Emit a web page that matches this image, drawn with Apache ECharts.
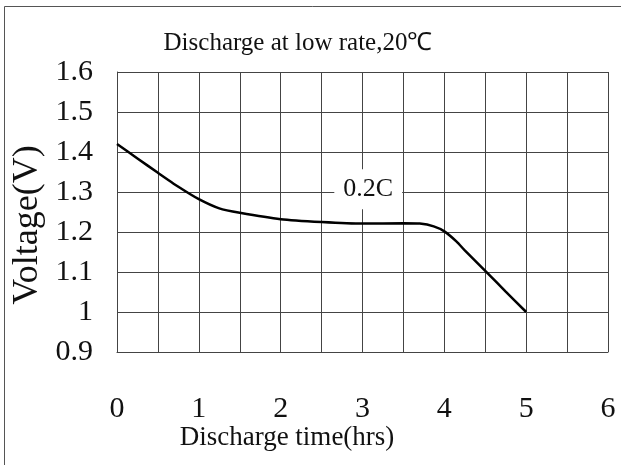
<!DOCTYPE html>
<html>
<head>
<meta charset="utf-8">
<script src="https://cdn.jsdelivr.net/npm/echarts@6/dist/echarts.min.js"></script>
<style>html,body{margin:0;padding:0;background:#fff}#c{width:621px;height:465px}</style>
</head>
<body>
<div id="c"></div>
<script>
const titleText = 'Discharge at low rate,20\u2103';
const xName = 'Discharge time(hrs)';
const yName = 'Voltage(V)';
const timeHrs = [0, 0.25, 0.5, 0.75, 1, 1.25, 1.5, 2, 2.5, 3, 3.5, 3.7, 3.87, 4, 4.15, 4.25, 4.5, 4.75, 5];
const voltage = [1.42, 1.384, 1.348, 1.313, 1.282, 1.259, 1.248, 1.232, 1.225, 1.221, 1.222, 1.221, 1.214, 1.2015, 1.176, 1.154, 1.103, 1.051, 1.0];
const seriesLabel = '0.2C';
const seriesLabelAt = [3.07, 1.307];

const FONT = 'Liberation Serif';
const chart = echarts.init(document.getElementById('c'), null, {renderer: 'canvas'});
chart.setOption({
  animation: false,
  backgroundColor: '#fff',
  title: {
    text: titleText, left: 293, top: 26, textAlign: 'center',
    textStyle: {fontFamily: FONT, fontSize: 25, fontWeight: 'normal', color: '#111'}
  },
  grid: {left: 117, right: 13, top: 72, bottom: 113, containLabel: false},
  xAxis: {
    type: 'value', min: 0, max: 6, interval: 1,
    axisLine: {show: true, lineStyle: {color: '#444', width: 1}},
    axisTick: {show: false},
    minorTick: {show: false, splitNumber: 2},
    splitLine: {show: true, lineStyle: {color: '#444', width: 1}},
    minorSplitLine: {show: true, lineStyle: {color: '#444', width: 1}},
    axisLabel: {fontFamily: FONT, fontSize: 30, color: '#111', margin: 42}
  },
  yAxis: {
    type: 'value', min: 0.9, max: 1.6, interval: 0.1,
    axisLine: {show: true, lineStyle: {color: '#444', width: 1}},
    axisTick: {show: false},
    splitLine: {show: true, lineStyle: {color: '#444', width: 1}},
    axisLabel: {fontFamily: FONT, fontSize: 30, color: '#111', margin: 24,
      formatter: v => String(parseFloat(v.toFixed(1)))}
  },
  graphic: [
    {type: 'polyline', shape: {points: [[4.5, 465], [4.5, 6.5], [621, 6.5]]}, style: {stroke: '#555', lineWidth: 1, fill: null}, silent: true},
    {type: 'text', x: 287, y: 438, style: {text: xName, fontFamily: FONT, fontSize: 27, fill: '#111', align: 'center', verticalAlign: 'middle'}},
    {type: 'text', x: 28, y: 225, rotation: Math.PI / 2, style: {text: yName, fontFamily: FONT, fontSize: 36, fill: '#111', align: 'center', verticalAlign: 'middle'}}
  ],
  series: [{
    type: 'line',
    data: timeHrs.map((t, i) => [t, voltage[i]]),
    smooth: 0.2,
    showSymbol: false,
    lineStyle: {color: '#000', width: 2.5},
    markPoint: {
      symbol: 'rect', symbolSize: 0,
      data: [{coord: seriesLabelAt}],
      label: {show: true, formatter: seriesLabel, fontFamily: FONT, fontSize: 26, color: '#111',
        backgroundColor: '#fff', padding: [7, 9]}
    }
  }]
});
</script>
</body>
</html>
